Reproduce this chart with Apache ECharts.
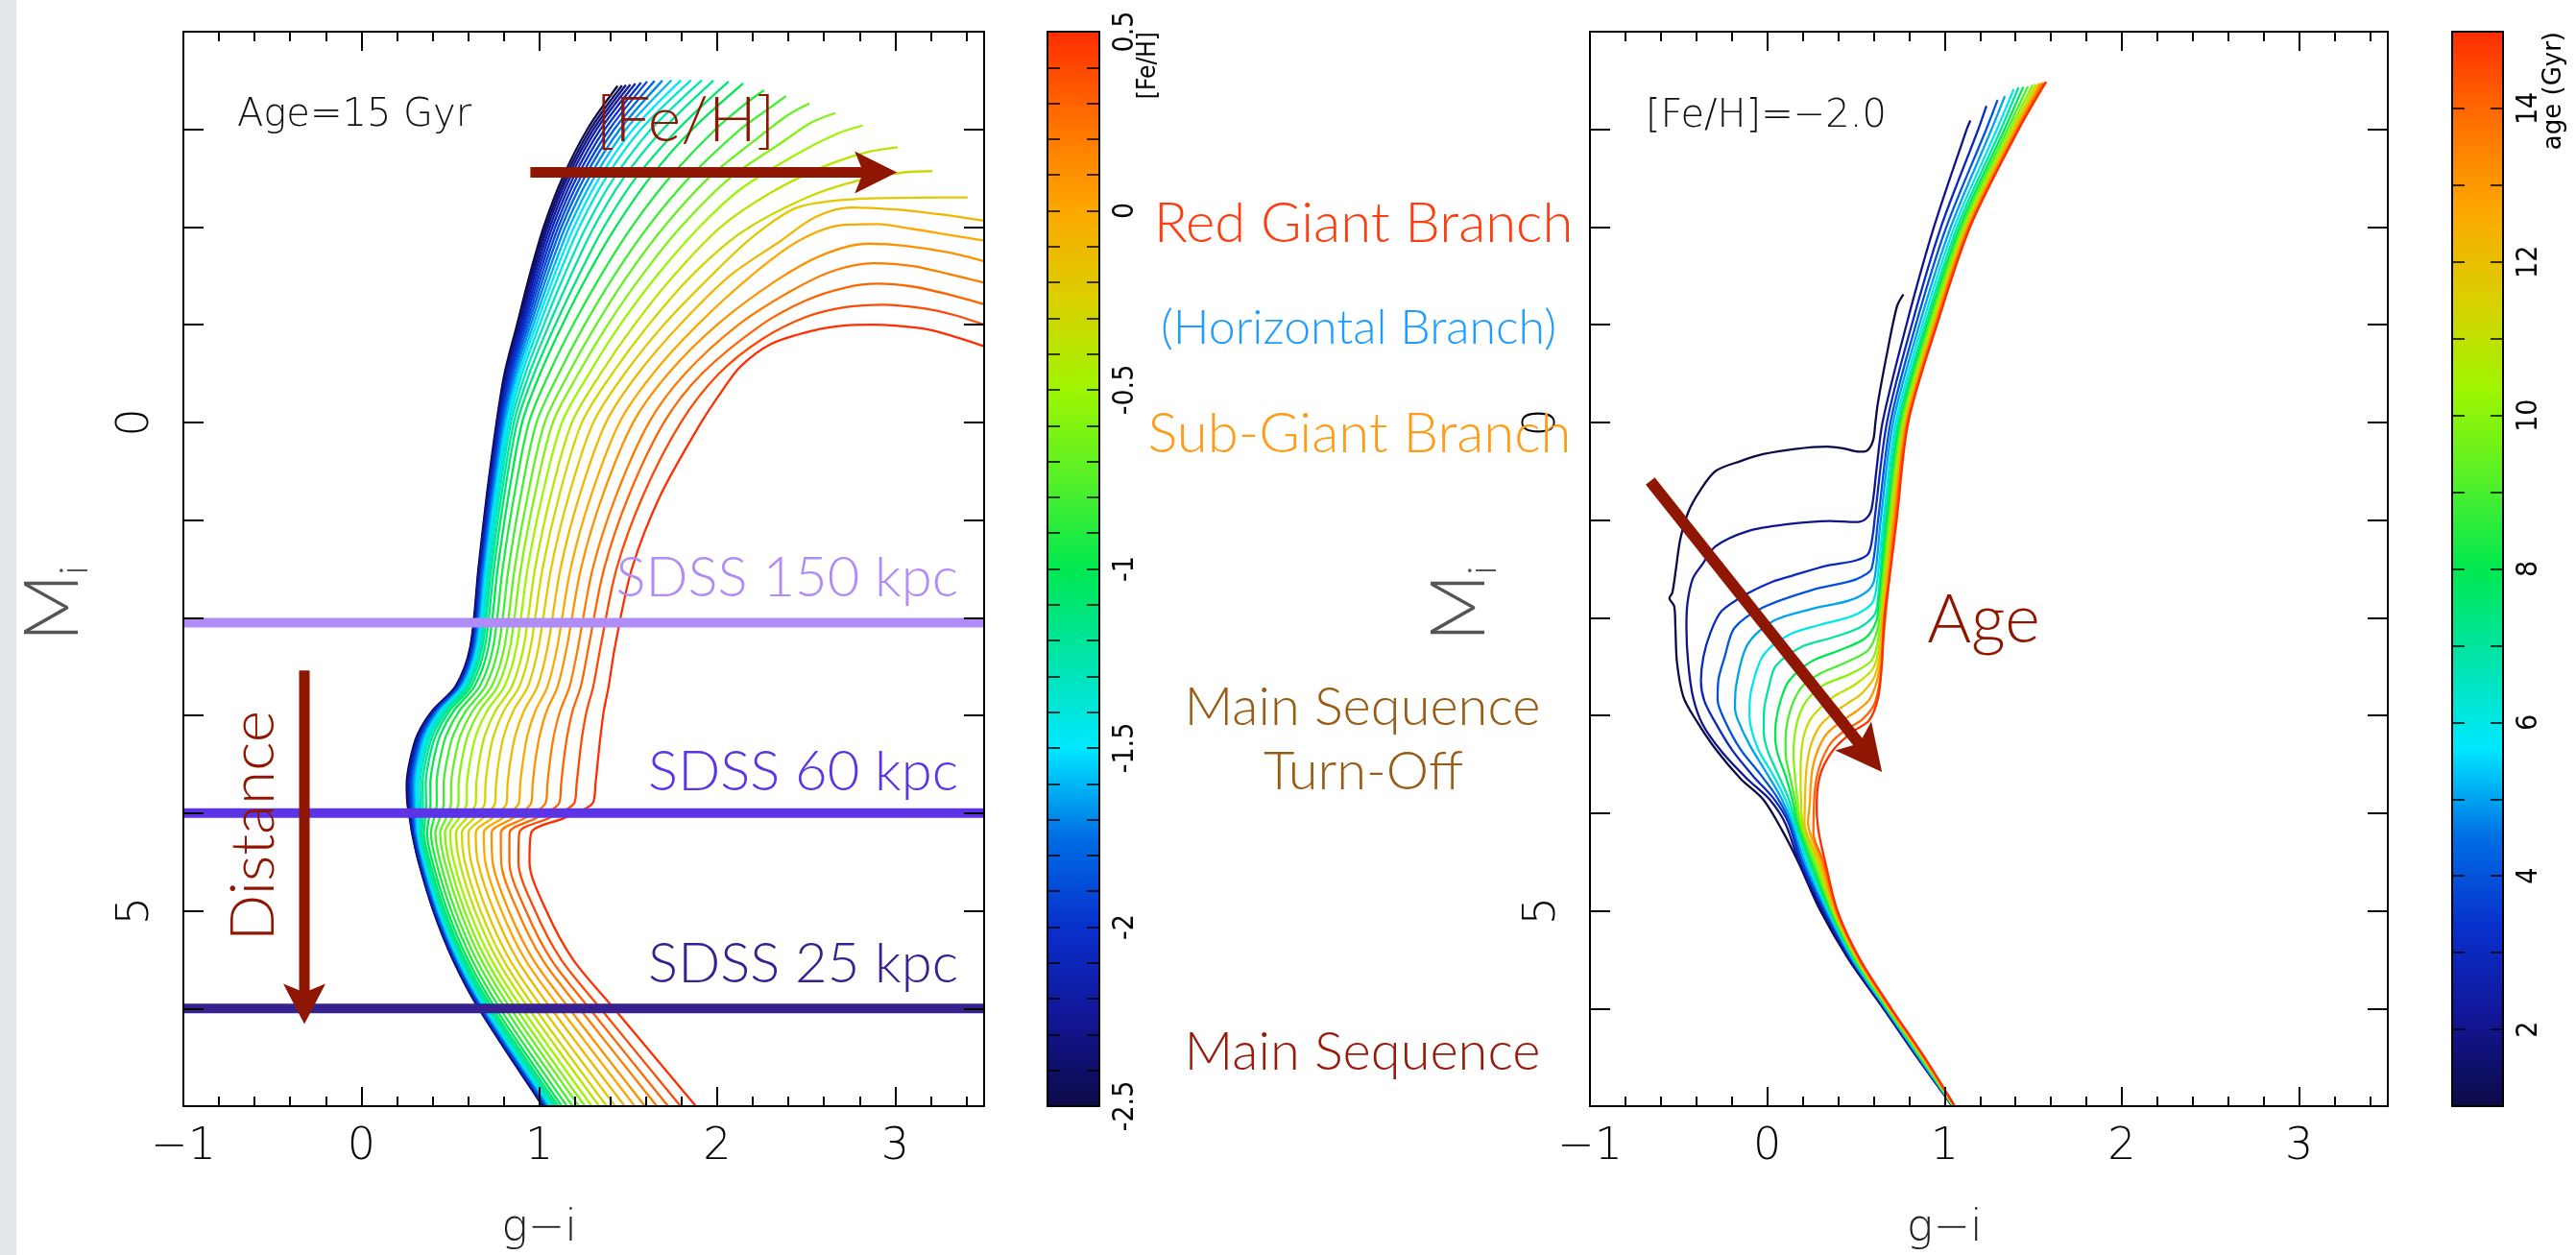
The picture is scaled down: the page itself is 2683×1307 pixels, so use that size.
<!DOCTYPE html>
<html><head><meta charset="utf-8"><title>Isochrones</title>
<script src="https://cdn.jsdelivr.net/npm/echarts@6.0.0/dist/echarts.min.js"></script>
<style>html,body{margin:0;padding:0;background:#fff;overflow:hidden}#chart{width:2683px;height:1307px}</style>
</head><body><div id="chart"></div>
<script>
// ================= DATA =================
// Left panel: isochrones of age 15 Gyr, one per [Fe/H]
const FEH_VALUES = [-2.5,-2.4,-2.3,-2.2,-2.1,-2.0,-1.9,-1.8,-1.7,-1.6,-1.5,-1.4,-1.3,-1.2,-1.1,-1.0,-0.9,-0.8,-0.7,-0.6,-0.5,-0.4,-0.3,-0.2,-0.1,0.0,0.1,0.2,0.3,0.4,0.5];
// g-i colour of every isochrone at fixed M_i levels (main sequence, turn-off, sub-giant, lower RGB)
const FEH_LEVELS_M = [7.0,6.0,5.5,5.0,4.5,4.2,4.05,3.9,3.7,3.45,3.2,2.95,2.7,2.3,1.5,0.75,0.0];
const FEH_X_M7_0 = [1.020,1.023,1.026,1.029,1.033,1.037,1.041,1.046,1.051,1.057,1.064,1.071,1.081,1.092,1.107,1.127,1.156,1.188,1.223,1.257,1.295,1.337,1.379,1.427,1.480,1.537,1.594,1.661,1.724,1.794,1.880];
const FEH_X_M6_0 = [.660,.663,.665,.668,.671,.675,.679,.683,.687,.693,.699,.705,.714,.724,.737,.755,.780,.809,.839,.870,.903,.940,.977,1.019,1.066,1.117,1.168,1.226,1.282,1.344,1.420];
const FEH_X_M5_5 = [.515,.517,.520,.522,.525,.528,.532,.535,.539,.544,.549,.555,.563,.572,.583,.599,.622,.647,.674,.701,.731,.764,.797,.834,.876,.921,.966,1.018,1.067,1.123,1.190];
const FEH_X_M5_0 = [.405,.407,.409,.412,.414,.417,.421,.424,.428,.432,.437,.443,.450,.458,.469,.484,.506,.529,.555,.580,.608,.639,.670,.705,.745,.787,.829,.878,.925,.977,1.040];
const FEH_X_M4_5 = [.322,.324,.326,.329,.331,.334,.337,.341,.345,.349,.354,.359,.366,.374,.385,.400,.421,.444,.469,.494,.521,.552,.582,.617,.655,.697,.738,.786,.832,.883,.945];
const FEH_X_M4_2 = [.285,.287,.289,.292,.295,.298,.301,.305,.309,.314,.319,.325,.332,.341,.352,.369,.391,.416,.443,.470,.499,.532,.565,.602,.643,.688,.732,.784,.833,.888,.955];
const FEH_X_M4_05 = [.272,.275,.278,.281,.285,.289,.293,.298,.303,.309,.316,.324,.333,.345,.359,.380,.409,.442,.477,.511,.550,.592,.634,.682,.736,.794,.852,.919,.982,1.054,1.140];
const FEH_X_M3_9 = [.259,.262,.266,.270,.274,.279,.284,.290,.297,.304,.312,.321,.333,.346,.364,.389,.424,.463,.504,.546,.592,.643,.694,.751,.816,.885,.954,1.035,1.111,1.196,1.300];
const FEH_X_M3_7 = [.255,.259,.262,.266,.271,.276,.281,.287,.293,.301,.309,.318,.330,.344,.362,.388,.423,.463,.505,.547,.594,.646,.698,.757,.822,.893,.963,1.046,1.123,1.210,1.316];
const FEH_X_M3_45 = [.275,.279,.282,.286,.290,.295,.301,.307,.313,.320,.329,.338,.350,.364,.381,.407,.442,.482,.524,.566,.613,.664,.715,.774,.839,.910,.979,1.061,1.138,1.225,1.330];
const FEH_X_M3_2 = [.315,.318,.322,.326,.330,.335,.340,.346,.352,.359,.367,.376,.388,.402,.419,.444,.478,.517,.558,.599,.645,.695,.745,.802,.866,.934,1.003,1.083,1.158,1.242,1.345];
const FEH_X_M2_95 = [.400,.403,.406,.410,.414,.419,.424,.429,.435,.441,.449,.457,.468,.481,.497,.520,.552,.589,.627,.665,.708,.755,.802,.855,.915,.979,1.043,1.118,1.188,1.267,1.363];
const FEH_X_M2_7 = [.530,.533,.536,.539,.543,.547,.551,.556,.561,.567,.574,.581,.591,.602,.617,.637,.666,.698,.733,.767,.805,.847,.889,.937,.990,1.047,1.104,1.171,1.234,1.304,1.390];
const FEH_X_M2_3 = [.612,.615,.617,.621,.624,.628,.632,.636,.641,.647,.653,.661,.670,.680,.694,.714,.741,.771,.804,.836,.872,.912,.951,.996,1.047,1.101,1.155,1.218,1.277,1.344,1.425];
const FEH_X_M1_5 = [.658,.661,.664,.667,.671,.675,.679,.684,.689,.695,.702,.709,.719,.730,.745,.766,.794,.827,.861,.896,.934,.976,1.018,1.066,1.119,1.176,1.234,1.300,1.364,1.434,1.520];
const FEH_X_M0_75 = [.705,.708,.711,.715,.719,.724,.729,.734,.740,.747,.754,.763,.774,.787,.803,.827,.859,.896,.935,.974,1.017,1.064,1.112,1.166,1.226,1.291,1.356,1.432,1.503,1.583,1.680];
const FEH_X_M0_0 = [.760,.764,.768,.772,.777,.782,.788,.794,.802,.810,.818,.829,.841,.857,.876,.904,.942,.985,1.031,1.077,1.128,1.184,1.240,1.304,1.375,1.451,1.528,1.617,1.701,1.796,1.910];
// upper red giant branch of the 15 most metal-poor isochrones
const FEH_UPPER_M = [-0.5,-1.0,-1.5,-2.0,-2.5,-3.0];
const FEH_X_Mn0_5 = [.805,.811,.816,.822,.829,.837,.845,.854,.865,.876,.889,.903,.922,.944,.971];
const FEH_X_Mn1_0 = [.875,.882,.889,.897,.906,.916,.927,.939,.952,.967,.983,1.002,1.026,1.055,1.090];
const FEH_X_Mn1_5 = [.945,.954,.963,.973,.985,.998,1.012,1.027,1.044,1.063,1.084,1.108,1.139,1.176,1.221];
const FEH_X_Mn2_0 = [1.025,1.036,1.047,1.060,1.074,1.090,1.107,1.125,1.146,1.169,1.195,1.225,1.263,1.307,1.363];
const FEH_X_Mn2_5 = [1.130,1.144,1.157,1.172,1.190,1.209,1.230,1.252,1.278,1.306,1.337,1.373,1.419,1.473,1.541];
const FEH_X_Mn3_0 = [1.270,1.287,1.304,1.322,1.344,1.368,1.394,1.421,1.453,1.487,1.527,1.571,1.628,1.695,1.779];
const FEH_TIP_X = [1.440,1.465,1.487,1.512,1.540,1.572,1.606,1.648,1.692,1.743,1.796,1.852,1.913,1.979,2.064];
const FEH_TIP_M = [-3.444,-3.450,-3.455,-3.460,-3.470,-3.480,-3.490,-3.497,-3.500,-3.503,-3.503,-3.503,-3.503,-3.500,-3.490];
// upper branches of the metal-rich isochrones ([g-i, M_i] above M_i = 0)
const FEH_TAIL_15 = [[1.005,-0.5],[1.13,-1.0],[1.27,-1.5],[1.43,-2.0],[1.62,-2.5],[1.86,-3.0],[2.146,-3.47]];
const FEH_TAIL_16 = [[1.055,-0.5],[1.19,-1.0],[1.345,-1.5],[1.52,-2.0],[1.73,-2.5],[1.99,-3.0],[2.15,-3.25],[2.263,-3.40]];
const FEH_TAIL_17 = [[1.11,-0.5],[1.255,-1.0],[1.42,-1.5],[1.61,-2.0],[1.84,-2.5],[2.13,-3.0],[2.28,-3.2],[2.386,-3.34]];
const FEH_TAIL_18 = [[1.165,-0.5],[1.32,-1.0],[1.495,-1.5],[1.70,-2.0],[1.95,-2.5],[2.22,-2.9],[2.40,-3.15],[2.518,-3.265]];
const FEH_TAIL_19 = [[1.22,-0.5],[1.385,-1.0],[1.575,-1.5],[1.795,-2.0],[2.07,-2.5],[2.35,-2.85],[2.53,-3.07],[2.664,-3.167]];
const FEH_TAIL_20 = [[1.28,-0.5],[1.455,-1.0],[1.66,-1.5],[1.90,-2.0],[2.14,-2.4],[2.45,-2.75],[2.68,-2.96],[2.817,-3.039]];
const FEH_TAIL_21 = [[1.345,-0.5],[1.535,-1.0],[1.755,-1.5],[2.02,-2.0],[2.3,-2.35],[2.6,-2.62],[2.85,-2.77],[3.014,-2.817]];
const FEH_TAIL_22 = [[1.41,-0.5],[1.615,-1.0],[1.855,-1.5],[2.14,-1.95],[2.5,-2.3],[2.8,-2.48],[3.05,-2.56],[3.209,-2.572]];
const FEH_TAIL_23 = [[1.48,-0.5],[1.70,-1.0],[1.965,-1.5],[2.2,-1.9],[2.45,-2.2],[2.8,-2.29],[3.1,-2.30],[3.407,-2.304]];
const FEH_TAIL_24 = [[1.555,-0.5],[1.79,-1.0],[2.07,-1.5],[2.35,-1.85],[2.55,-2.1],[2.75,-2.2],[3.0,-2.18],[3.25,-2.13],[3.5,-2.065]];
const FEH_TAIL_25 = [[1.64,-0.5],[1.89,-1.0],[2.19,-1.5],[2.45,-1.85],[2.7,-2.02],[2.9,-2.03],[3.1,-1.98],[3.3,-1.92],[3.5,-1.86]];
const FEH_TAIL_26 = [[1.725,-0.5],[2.0,-1.0],[2.33,-1.45],[2.6,-1.72],[2.85,-1.83],[3.05,-1.81],[3.3,-1.74],[3.5,-1.65]];
const FEH_TAIL_27 = [[1.82,-0.5],[2.12,-1.0],[2.42,-1.35],[2.65,-1.55],[2.88,-1.63],[3.1,-1.6],[3.3,-1.52],[3.5,-1.43]];
const FEH_TAIL_28 = [[1.915,-0.5],[2.25,-1.0],[2.5,-1.25],[2.72,-1.38],[2.9,-1.42],[3.1,-1.39],[3.3,-1.31],[3.5,-1.21]];
const FEH_TAIL_29 = [[2.01,-0.5],[2.25,-0.85],[2.5,-1.08],[2.72,-1.18],[2.93,-1.205],[3.15,-1.17],[3.33,-1.1],[3.5,-1.0]];
const FEH_TAIL_30 = [[2.03,-0.33],[2.13,-0.57],[2.30,-0.8],[2.54,-0.94],[2.71,-0.99],[2.87,-1.0],[3.0,-0.99],[3.19,-0.95],[3.33,-0.88],[3.5,-0.78]];

// Right panel: isochrones of [Fe/H] = -2.0, one per age (Gyr)
const AGES = [1,2,3,4,5,6,7,8,9,10,11,12,13,14,15];
const AGE_LEVELS_M = [7.0,6.5,6.0,5.5,5.0,4.5];
const AGE_X_M7_0 = [1.044,1.045,1.046,1.047,1.048,1.049,1.050,1.051,1.052,1.053,1.054,1.055,1.056,1.057,1.058];
const AGE_X_M6_5 = [.845,.848,.851,.854,.857,.860,.863,.866,.869,.872,.875,.878,.881,.884,.887];
const AGE_X_M6_0 = [.655,.659,.663,.666,.669,.672,.675,.678,.681,.684,.687,.690,.693,.696,.700];
const AGE_X_M5_5 = [.460,.466,.472,.477,.482,.487,.492,.497,.501,.505,.509,.513,.517,.520,.524];
const AGE_X_M5_0 = [.300,.310,.320,.328,.336,.344,.351,.358,.364,.370,.376,.381,.386,.391,.396];
const AGE_X_M4_5 = [.175,.180,.190,.200,.212,.224,.236,.248,.260,.272,.284,.295,.306,.317,.327];
const AGE_TAIL_1 = [[.085,4.18],[-.023,3.86],[-.149,3.65],[-.293,3.34],[-.401,3.05],[-.473,2.81],[-.509,2.46],[-.518,2.1],[-.525,1.88],[-.552,1.80],[-.535,1.74],[-.515,1.5],[-.491,1.2],[-.446,.92],[-.383,.71],[-.293,.5],[-.149,.395],[-.023,.325],[.156,.272],[.336,.248],[.426,.265],[.516,.30],[.561,.29],[.597,.184],[.61,0],[.624,-.2],[.678,-.73],[.732,-1.19],[.768,-1.31]];
const AGE_TAIL_2 = [[.103,4.11],[.013,3.86],[-.113,3.65],[-.257,3.37],[-.365,3.09],[-.419,2.81],[-.446,2.46],[-.456,2.1],[-.45,1.85],[-.42,1.6],[-.365,1.45],[-.293,1.27],[-.113,1.115],[.103,1.045],[.354,1.01],[.498,1.02],[.552,.992],[.588,.887],[.615,.5],[.65,0],[.785,-1],[.94,-2],[1.125,-3],[1.146,-3.09]];
const AGE_TAIL_3 = [[.12,4.1],[.04,3.86],[-.08,3.62],[-.2,3.35],[-.3,3.05],[-.355,2.85],[-.374,2.65],[-.36,2.4],[-.32,2.15],[-.257,1.93],[-.113,1.754],[.031,1.63],[.121,1.58],[.336,1.467],[.498,1.414],[.57,1.344],[.597,1.13],[.605,1.0],[.675,0],[.815,-1],[.98,-2],[1.19,-3],[1.236,-3.24]];
const AGE_TAIL_4 = [[.13,4.1],[.06,3.85],[-.04,3.6],[-.15,3.35],[-.24,3.05],[-.28,2.84],[-.275,2.63],[-.24,2.4],[-.185,2.105],[-.023,1.894],[.246,1.719],[.462,1.63],[.534,1.578],[.588,1.5],[.625,1.0],[.695,0],[.838,-1],[1.01,-2],[1.235,-3],[1.299,-3.30]];
const AGE_TAIL_5 = [[.14,4.1],[.08,3.85],[0,3.6],[-.1,3.3],[-.165,3.05],[-.182,2.92],[-.176,2.7],[-.113,2.28],[.031,2.035],[.246,1.912],[.462,1.824],[.57,1.719],[.605,1.6],[.64,1.0],[.71,0],[.858,-1],[1.035,-2],[1.265,-3],[1.34,-3.34]];
const AGE_TAIL_6 = [[.15,4.1],[.1,3.85],[.03,3.6],[-.05,3.35],[-.095,3.1],[-.1,2.95],[-.09,2.74],[-.023,2.386],[.121,2.175],[.301,2.07],[.48,1.982],[.588,1.859],[.615,1.7],[.655,1.0],[.725,0],[.875,-1],[1.055,-2],[1.295,-3],[1.39,-3.41]];
const AGE_TAIL_7 = [[.16,4.1],[.12,3.85],[.06,3.6],[0,3.35],[-.02,3.16],[-.018,2.95],[.01,2.7],[.049,2.49],[.193,2.298],[.354,2.21],[.516,2.105],[.606,1.965],[.625,1.8],[.665,1.0],[.737,0],[.89,-1],[1.072,-2],[1.318,-3],[1.417,-3.43]];
const AGE_TAIL_8 = [[.17,4.1],[.14,3.85],[.1,3.6],[.06,3.4],[.045,3.23],[.05,3.05],[.075,2.85],[.121,2.65],[.246,2.45],[.408,2.333],[.552,2.21],[.615,2.035],[.632,1.8],[.675,1.0],[.748,0],[.902,-1],[1.086,-2],[1.338,-3],[1.444,-3.435]];
const AGE_TAIL_9 = [[.18,4.1],[.155,3.85],[.125,3.6],[.105,3.42],[.103,3.25],[.115,3.05],[.15,2.85],[.2,2.7],[.3,2.57],[.426,2.47],[.57,2.33],[.624,2.105],[.638,1.85],[.685,1.0],[.757,0],[.913,-1],[1.098,-2],[1.355,-3],[1.47,-3.44]];
const AGE_TAIL_10 = [[.19,4.1],[.17,3.85],[.155,3.6],[.148,3.4],[.155,3.2],[.18,3.0],[.23,2.83],[.327,2.68],[.462,2.58],[.588,2.44],[.628,2.2],[.642,1.9],[.693,1.0],[.765,0],[.922,-1],[1.108,-2],[1.37,-3],[1.497,-3.456]];
const AGE_TAIL_11 = [[.2,4.1],[.19,3.85],[.188,3.6],[.19,3.42],[.205,3.22],[.24,3.05],[.3,2.92],[.38,2.8],[.49,2.69],[.597,2.52],[.633,2.27],[.646,1.95],[.7,1.0],[.772,0],[.93,-1],[1.117,-2],[1.383,-3],[1.515,-3.463]];
const AGE_TAIL_12 = [[.21,4.1],[.213,3.85],[.218,3.62],[.228,3.45],[.25,3.28],[.3,3.1],[.37,2.98],[.45,2.88],[.53,2.78],[.606,2.6],[.638,2.34],[.65,2.0],[.708,1.0],[.779,0],[.938,-1],[1.125,-2],[1.394,-3],[1.533,-3.47]];
const AGE_TAIL_13 = [[.23,4.1],[.24,3.9],[.245,3.72],[.255,3.55],[.28,3.38],[.33,3.2],[.41,3.07],[.5,2.96],[.575,2.84],[.615,2.67],[.642,2.42],[.654,2.1],[.715,1.0],[.785,0],[.945,-1],[1.132,-2],[1.403,-3],[1.546,-3.477]];
const AGE_TAIL_14 = [[.26,4.2],[.262,4.0],[.266,3.82],[.278,3.64],[.305,3.47],[.36,3.28],[.44,3.15],[.53,3.05],[.6,2.9],[.628,2.72],[.646,2.47],[.656,2.2],[.722,1.0],[.79,0],[.951,-1],[1.138,-2],[1.411,-3],[1.56,-3.48]];
const AGE_TAIL_15 = [[.292,4.213],[.279,3.967],[.283,3.76],[.31,3.55],[.38,3.335],[.48,3.17],[.575,3.05],[.625,2.82],[.645,2.5],[.66,2.0],[.69,1.58],[.73,1.0],[.795,0],[.957,-1],[1.144,-2],[1.418,-3],[1.573,-3.487]];

// Survey limits (horizontal lines) and labels
const SDSS_LIMITS_M = [2.05, 4.0, 6.0];
const SDSS_LABELS = ['SDSS 150 kpc', 'SDSS 60 kpc', 'SDSS 25 kpc'];
const SDSS_COLORS = ['#b08cf9', '#5c34e6', '#37208f'];

// Tick labels
const X_TICK_LABELS = [-1, 0, 1, 2, 3];
const Y_TICK_LABELS = [0, 5];
const FEH_BAR_LABELS = [-2.5, -2, -1.5, -1, -0.5, 0, 0.5];
const AGE_BAR_LABELS = [2, 4, 6, 8, 10, 12, 14];

// Annotation arrows (data units of each panel)
const FEH_ARROW = [[0.95, -2.56], [3.01, -2.56]];
const DIST_ARROW = [[-0.32, 2.54], [-0.32, 6.16]];
const AGE_ARROW = [[-0.66, 0.60], [0.647, 3.58]];

// ================= STYLE =================
const FEH_LEVELS_X = [FEH_X_M7_0,FEH_X_M6_0,FEH_X_M5_5,FEH_X_M5_0,FEH_X_M4_5,FEH_X_M4_2,FEH_X_M4_05,FEH_X_M3_9,FEH_X_M3_7,FEH_X_M3_45,FEH_X_M3_2,FEH_X_M2_95,FEH_X_M2_7,FEH_X_M2_3,FEH_X_M1_5,FEH_X_M0_75,FEH_X_M0_0];
const FEH_UPPER_X = [FEH_X_Mn0_5,FEH_X_Mn1_0,FEH_X_Mn1_5,FEH_X_Mn2_0,FEH_X_Mn2_5,FEH_X_Mn3_0];
const FEH_TAILS = [FEH_TAIL_15,FEH_TAIL_16,FEH_TAIL_17,FEH_TAIL_18,FEH_TAIL_19,FEH_TAIL_20,FEH_TAIL_21,FEH_TAIL_22,FEH_TAIL_23,FEH_TAIL_24,FEH_TAIL_25,FEH_TAIL_26,FEH_TAIL_27,FEH_TAIL_28,FEH_TAIL_29,FEH_TAIL_30];
const AGE_LEVELS_X = [AGE_X_M7_0,AGE_X_M6_5,AGE_X_M6_0,AGE_X_M5_5,AGE_X_M5_0,AGE_X_M4_5];
const AGE_TAILS = [AGE_TAIL_1,AGE_TAIL_2,AGE_TAIL_3,AGE_TAIL_4,AGE_TAIL_5,AGE_TAIL_6,AGE_TAIL_7,AGE_TAIL_8,AGE_TAIL_9,AGE_TAIL_10,AGE_TAIL_11,AGE_TAIL_12,AGE_TAIL_13,AGE_TAIL_14,AGE_TAIL_15];

const CMAP = [[0,[12,10,72]],[0.083,[18,22,150]],[0.167,[8,48,205]],[0.25,[0,110,228]],[0.333,[0,232,255]],[0.417,[0,228,170]],[0.5,[0,232,80]],[0.583,[85,240,40]],[0.667,[158,245,0]],[0.75,[218,208,0]],[0.833,[252,168,0]],[0.917,[255,112,0]],[1,[255,45,0]]];
function cmap(t) {
  t = Math.max(0, Math.min(1, t));
  for (let k = 1; k < CMAP.length; k++) {
    if (t <= CMAP[k][0]) {
      const a = CMAP[k-1], b = CMAP[k], u = (t - a[0]) / (b[0] - a[0]);
      const c = a[1].map((v, j) => Math.round(v + (b[1][j] - v) * u));
      return 'rgb(' + c.join(',') + ')';
    }
  }
  return 'rgb(' + CMAP[CMAP.length-1][1].join(',') + ')';
}
const GILL = "Lato, 'Open Sans', sans-serif";
const HERSHEY = "'DejaVu Sans', 'Liberation Sans', sans-serif";
const NARROW = "'Liberation Sans Narrow', 'DejaVu Sans Condensed', 'Liberation Sans', sans-serif";
const DARKRED = '#8f1600';
const fmtNum = v => (v < 0 ? '\u2212' + Math.abs(v) : String(v));

const chart = echarts.init(document.getElementById('chart'), null, {width: 2683, height: 1307});

const GRIDS = [
  {left: 191, top: 33, width: 834, height: 1119},
  {left: 1656, top: 33, width: 831, height: 1119},
  {left: 1091, top: 33, width: 54, height: 1119},
  {left: 2554, top: 33, width: 53, height: 1119}
];

function xAx(grid, pos, interval, tickLen, labels) {
  return {
    type: 'value', gridIndex: grid, position: pos, min: -1, max: 3.5, interval: interval, z: 10,
    axisLine: {show: true, onZero: false, lineStyle: {color: '#000', width: 2}},
    axisTick: {show: true, inside: true, length: tickLen, lineStyle: {color: '#000', width: 2}},
    splitLine: {show: false},
    axisLabel: {show: labels, margin: 20, fontSize: 46, color: '#000', fontFamily: HERSHEY, fontWeight: 200,
      formatter: v => (X_TICK_LABELS.indexOf(v) >= 0 ? fmtNum(v) : '')}
  };
}
function yAx(grid, pos, labels) {
  return {
    type: 'value', gridIndex: grid, position: pos, min: -4, max: 7, interval: 1, inverse: true, z: 10,
    axisLine: {show: true, onZero: false, lineStyle: {color: '#000', width: 2}},
    axisTick: {show: true, inside: true, length: 21, lineStyle: {color: '#000', width: 2}},
    splitLine: {show: false},
    axisLabel: {show: labels, rotate: 90, margin: 26, fontSize: 46, color: '#000', fontFamily: HERSHEY, fontWeight: 200,
      formatter: v => (Y_TICK_LABELS.indexOf(v) >= 0 ? String(v) : '')}
  };
}
function barX(grid, pos) {
  return {type: 'value', gridIndex: grid, position: pos, min: 0, max: 1, z: 10,
    axisLine: {show: true, onZero: false, lineStyle: {color: '#000', width: 2}},
    axisTick: {show: false}, axisLabel: {show: false}, splitLine: {show: false}};
}
function barY(grid, pos, min, max, interval, labels, fmt) {
  return {type: 'value', gridIndex: grid, position: pos, min: min, max: max, interval: interval, z: 10,
    axisLine: {show: true, onZero: false, lineStyle: {color: '#000', width: 2}},
    axisTick: {show: true, inside: true, length: 13, lineStyle: {color: '#000', width: 1.5}},
    splitLine: {show: false},
    axisLabel: {show: labels, rotate: 90, margin: 12, fontSize: 30, color: '#000', fontFamily: NARROW, formatter: fmt}};
}

const xAxis = [
  xAx(0, 'bottom', 1, 20, true), xAx(0, 'bottom', 0.2, 10, false), xAx(0, 'top', 1, 20, false), xAx(0, 'top', 0.2, 10, false),
  xAx(1, 'bottom', 1, 20, true), xAx(1, 'bottom', 0.2, 10, false), xAx(1, 'top', 1, 20, false), xAx(1, 'top', 0.2, 10, false),
  barX(2, 'bottom'), barX(2, 'top'), barX(3, 'bottom'), barX(3, 'top')
];
const fehBarFmt = v => { for (const l of FEH_BAR_LABELS) if (Math.abs(v - l) < 1e-6) return String(l); return ''; };
const ageBarFmt = v => (AGE_BAR_LABELS.indexOf(Math.round(v)) >= 0 && Math.abs(v - Math.round(v)) < 1e-6 ? String(Math.round(v)) : '');
const yAxis = [
  yAx(0, 'left', true), yAx(0, 'right', false), yAx(1, 'left', true), yAx(1, 'right', false),
  barY(2, 'right', FEH_VALUES[0], FEH_VALUES[FEH_VALUES.length-1], 0.1, true, fehBarFmt),
  barY(2, 'left', FEH_VALUES[0], FEH_VALUES[FEH_VALUES.length-1], 0.1, false, fehBarFmt),
  barY(3, 'right', AGES[0], AGES[AGES.length-1], 1, true, ageBarFmt),
  barY(3, 'left', AGES[0], AGES[AGES.length-1], 1, false, ageBarFmt)
];

const series = [];
const nLow = FEH_UPPER_X[0].length;
FEH_VALUES.forEach((feh, i) => {
  const pts = FEH_LEVELS_M.map((m, k) => [FEH_LEVELS_X[k][i], m]);
  if (i < nLow) {
    FEH_UPPER_M.forEach((m, k) => pts.push([FEH_UPPER_X[k][i], m]));
    pts.push([FEH_TIP_X[i], FEH_TIP_M[i]]);
  } else {
    FEH_TAILS[i - nLow].forEach(p => pts.push(p));
  }
  const t = (feh - FEH_VALUES[0]) / (FEH_VALUES[FEH_VALUES.length-1] - FEH_VALUES[0]);
  series.push({type: 'line', name: '[Fe/H]=' + feh, xAxisIndex: 0, yAxisIndex: 0, data: pts, smooth: 0.3,
    showSymbol: false, symbol: 'none', silent: true, z: 2, clip: true,
    lineStyle: {color: cmap(t), width: 2.3}});
});
SDSS_LIMITS_M.forEach((m, k) => {
  series.push({type: 'line', name: SDSS_LABELS[k], xAxisIndex: 0, yAxisIndex: 0, data: [[-1, m], [3.5, m]],
    showSymbol: false, symbol: 'none', silent: true, z: 5, lineStyle: {color: SDSS_COLORS[k], width: 10}});
});
AGES.forEach((age, j) => {
  const pts = AGE_LEVELS_M.map((m, k) => [AGE_LEVELS_X[k][j], m]);
  AGE_TAILS[j].forEach(p => pts.push(p));
  const t = (age - AGES[0]) / (AGES[AGES.length-1] - AGES[0]);
  series.push({type: 'line', name: age + ' Gyr', xAxisIndex: 4, yAxisIndex: 2, data: pts, smooth: 0.3,
    showSymbol: false, symbol: 'none', silent: true, z: 2, clip: true,
    lineStyle: {color: cmap(t), width: 2.3}});
});
function colorbar(xi, yi, min, max) {
  const stops = CMAP.map(s => ({offset: s[0], color: 'rgb(' + s[1].join(',') + ')'}));
  return {type: 'custom', xAxisIndex: xi, yAxisIndex: yi, silent: true, z: 1, data: [[0, min]], encode: {x: 0, y: 1},
    renderItem: (params, api) => {
      const p0 = api.coord([0, min]), p1 = api.coord([1, max]);
      return {type: 'rect', shape: {x: p0[0], y: p1[1], width: p1[0] - p0[0], height: p0[1] - p1[1]},
        style: {fill: new echarts.graphic.LinearGradient(0, 1, 0, 0, stops)}};
    }};
}
series.push(colorbar(8, 4, FEH_VALUES[0], FEH_VALUES[FEH_VALUES.length-1]));
series.push(colorbar(10, 6, AGES[0], AGES[AGES.length-1]));

chart.setOption({animation: false, backgroundColor: '#ffffff', grid: GRIDS, xAxis: xAxis, yAxis: yAxis, series: series});

// ================= ANNOTATIONS =================
const leftIdx = 0, rightIdx = FEH_VALUES.length + SDSS_LIMITS_M.length;
const toPx = (si, p) => chart.convertToPixel({seriesIndex: si}, p);
function arrow(p0, p1, w, headLen, headHalf, notch) {
  const dx = p1[0] - p0[0], dy = p1[1] - p0[1], L = Math.hypot(dx, dy);
  const ux = dx / L, uy = dy / L, nx = -uy, ny = ux;
  const bx = p1[0] - ux * headLen, by = p1[1] - uy * headLen;
  const kx = bx + ux * notch, ky = by + uy * notch;
  return [
    {type: 'polygon', z: 50, shape: {points: [[p0[0] + nx*w/2, p0[1] + ny*w/2], [kx + ux*2 + nx*w/2, ky + uy*2 + ny*w/2], [kx + ux*2 - nx*w/2, ky + uy*2 - ny*w/2], [p0[0] - nx*w/2, p0[1] - ny*w/2]]}, style: {fill: DARKRED}},
    {type: 'polygon', z: 50, shape: {points: [[p1[0], p1[1]], [bx + nx*headHalf, by + ny*headHalf], [kx, ky], [bx - nx*headHalf, by - ny*headHalf]]}, style: {fill: DARKRED}}
  ];
}
function txt(x, y, s, size, color, opts) {
  return Object.assign({type: 'text', z: 60, x: x, y: y, style: Object.assign({text: s, fontSize: size, fill: color,
    fontFamily: GILL, fontWeight: 300, align: 'center', verticalAlign: 'middle'}, (opts && opts.style) || {})},
    opts && opts.rotation ? {rotation: opts.rotation} : {});
}
const g = [];
g.push({type: 'rect', z: 0, shape: {x: 0, y: 0, width: 17, height: 1307}, style: {fill: '#e2e5e9'}});
g.push(...arrow(toPx(leftIdx, FEH_ARROW[0]), toPx(leftIdx, FEH_ARROW[1]), 11, 44, 22, 9));
g.push(...arrow(toPx(leftIdx, DIST_ARROW[0]), toPx(leftIdx, DIST_ARROW[1]), 11, 42, 22, 9));
g.push(...arrow(toPx(rightIdx, AGE_ARROW[0]), toPx(rightIdx, AGE_ARROW[1]), 12, 48, 24, 10));
// panel texts
g.push(txt(247, 121, 'Age=15 Gyr', 40, '#111', {style: {align: 'left', fontFamily: HERSHEY, fontWeight: 200}}));
g.push(txt(1714, 122, '[Fe/H]=\u22122.0', 40, '#111', {style: {align: 'left', fontFamily: HERSHEY, fontWeight: 200}}));
g.push(txt(714, 126, '[Fe/H]', 66, DARKRED));
g.push(txt(264, 860, 'Distance', 64, DARKRED, {rotation: Math.PI / 2}));
g.push(txt(2066, 646, 'Age', 70, DARKRED));
const sdssY = [602, 804, 1004];
SDSS_LABELS.forEach((s, k) => g.push(txt(998, sdssY[k], s, 58, SDSS_COLORS[k], {style: {align: 'right'}})));
// middle legend texts
g.push(txt(1420, 233, 'Red Giant Branch', 58, '#fd3d0f'));
g.push(txt(1415, 342, '(Horizontal Branch)', 50, '#1e9cff'));
g.push(txt(1416, 452, 'Sub-Giant Branch', 58, '#ff9b14'));
g.push(txt(1419, 737, 'Main Sequence', 56, '#9a5b14'));
g.push(txt(1420, 804, 'Turn-Off', 56, '#9a5b14'));
g.push(txt(1419, 1096, 'Main Sequence', 56, '#961b0d'));
// axis titles (centred under g-i = 1 of each panel)
const gxL = toPx(leftIdx, [1, 7])[0], gxR = toPx(rightIdx, [1, 7])[0];
g.push(txt(gxL, 1280, 'g\u2212i', 46, '#222', {style: {fontFamily: HERSHEY, fontWeight: 200}}));
g.push(txt(gxR, 1280, 'g\u2212i', 46, '#222', {style: {fontFamily: HERSHEY, fontWeight: 200}}));
g.push(txt(56, 633, 'M', 78, '#555', {rotation: Math.PI / 2}));
g.push(txt(77, 594, 'i', 42, '#555', {rotation: Math.PI / 2}));
g.push(txt(1521, 633, 'M', 78, '#555', {rotation: Math.PI / 2}));
g.push(txt(1544, 594, 'i', 42, '#555', {rotation: Math.PI / 2}));
// colorbar titles
g.push(txt(1196, 33, '[Fe/H]', 26, '#000', {rotation: Math.PI / 2, style: {align: 'right', fontFamily: NARROW, fontWeight: 400}}));
g.push(txt(2660, 33, 'age (Gyr)', 26, '#000', {rotation: Math.PI / 2, style: {align: 'right', fontFamily: HERSHEY, fontWeight: 400}}));
chart.setOption({graphic: g});
</script></body></html>
